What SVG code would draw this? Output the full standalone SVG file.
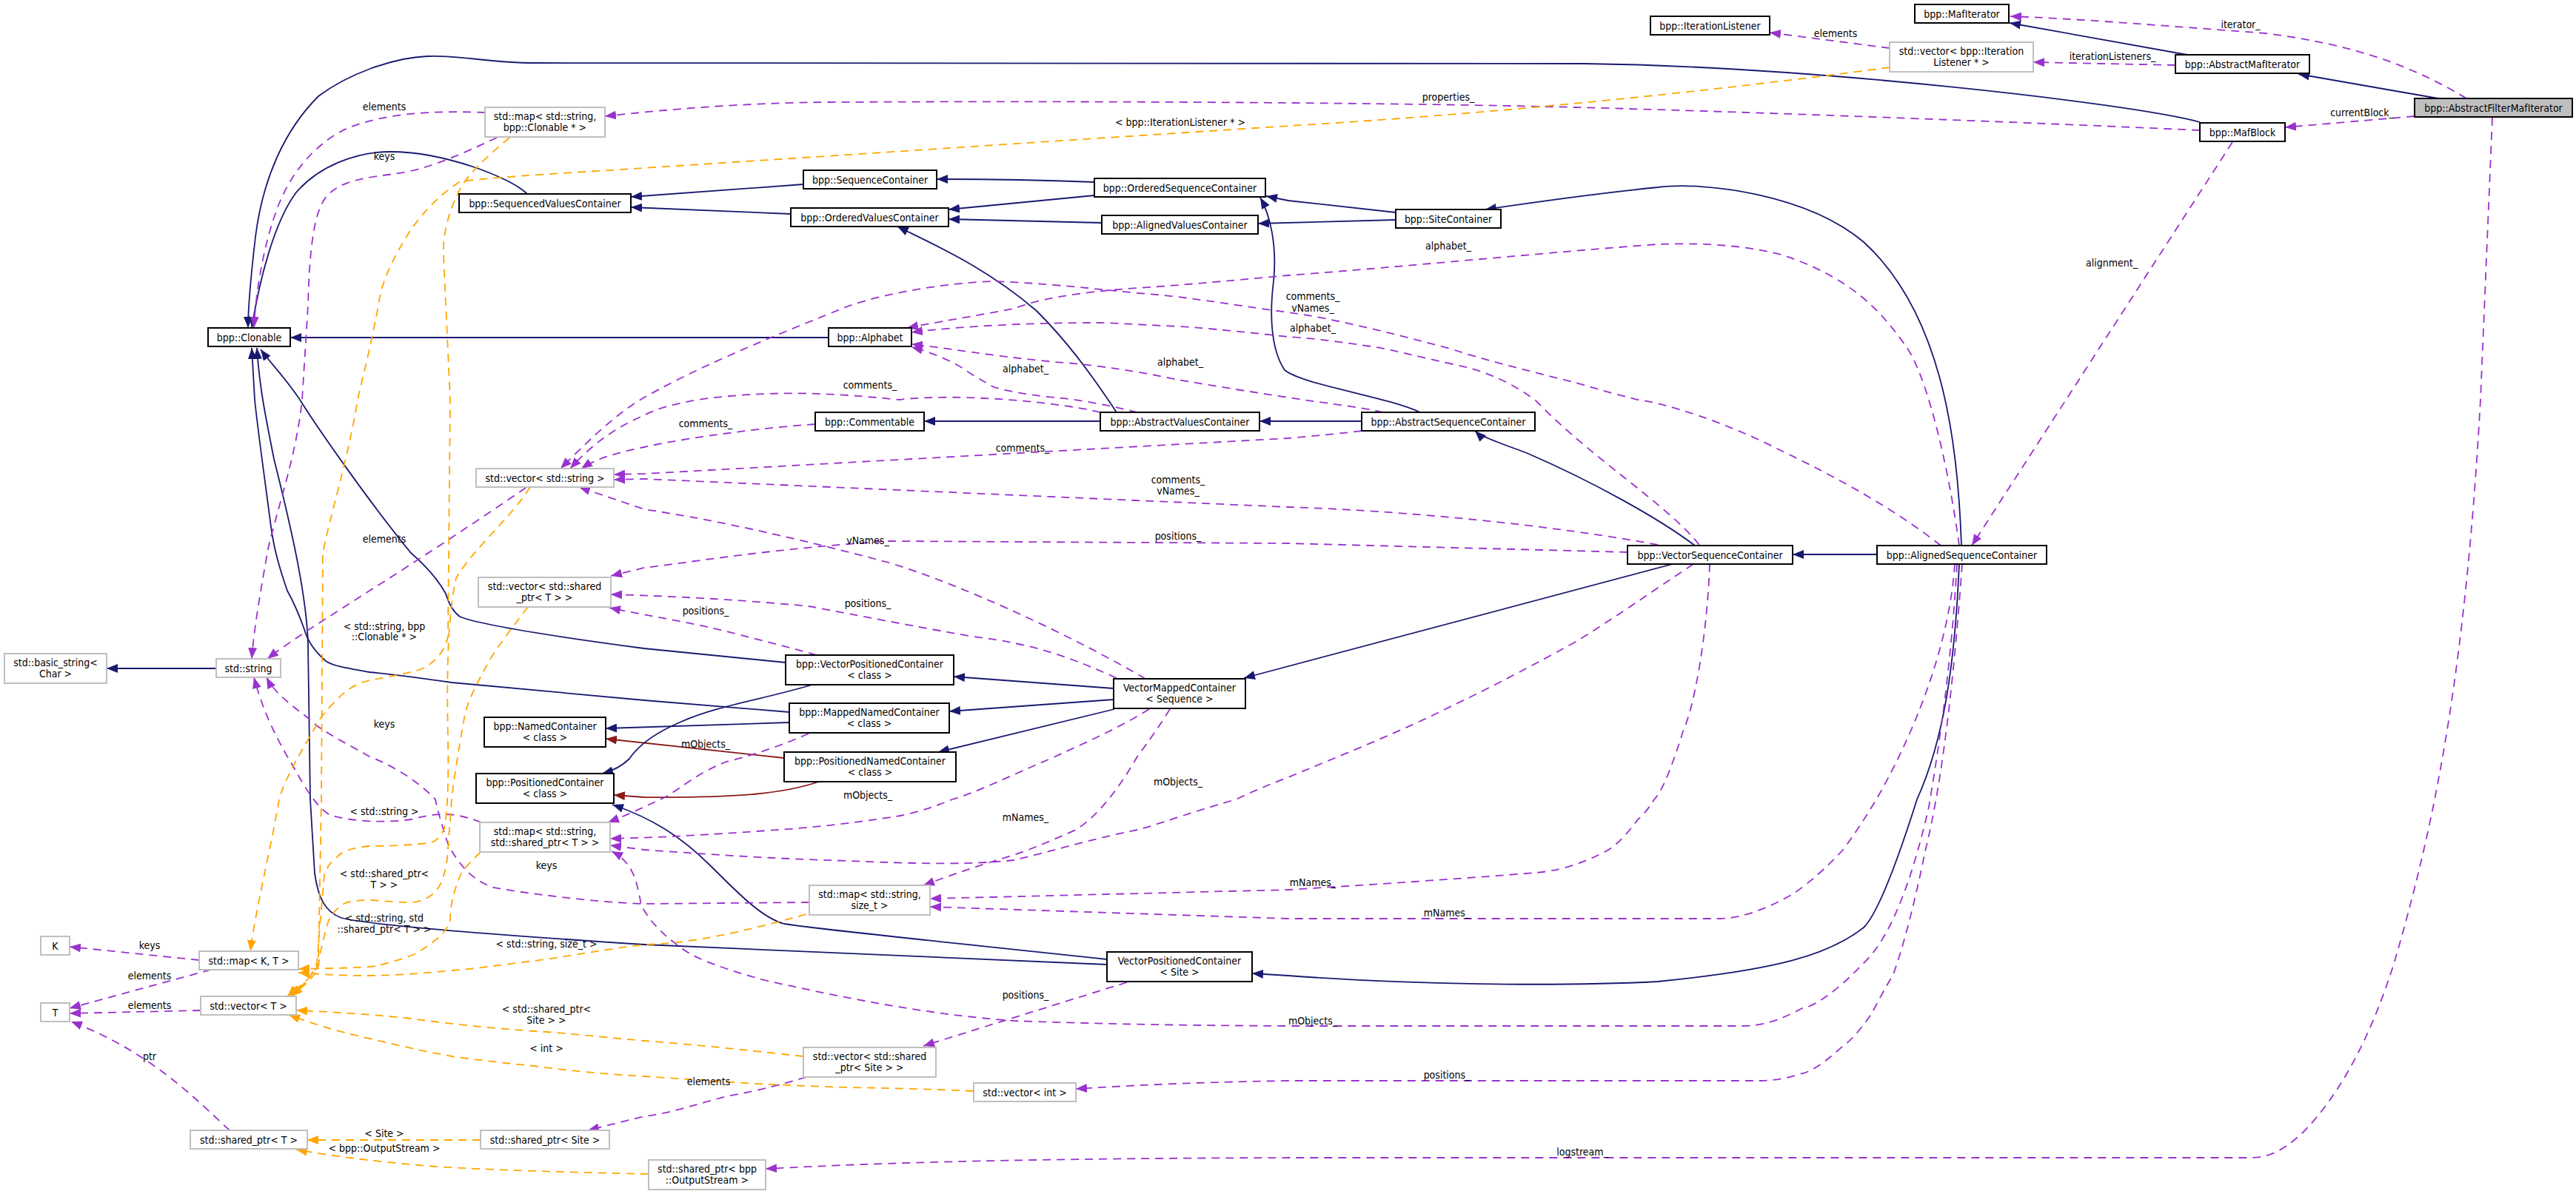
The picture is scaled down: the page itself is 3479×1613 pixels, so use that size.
<svg xmlns="http://www.w3.org/2000/svg" width="3479" height="1613" viewBox="0 0 3479 1613">
<defs>
<style>
.nd rect{fill:#ffffff;stroke:#000000;stroke-width:2}
.nd.u rect{stroke:#bfbfbf}
.nd.f rect{fill:#bfbfbf}
text{font-family:'DejaVu Sans Condensed','DejaVu Sans','Liberation Sans',sans-serif;font-stretch:condensed;font-size:14px;fill:#000000;text-anchor:middle}
.e path{fill:none;stroke-width:1.8}
.e .i{stroke:#191970;marker-end:url(#mb)}
.e .p{stroke:#8b1a1a;marker-end:url(#mr)}
.e .d{stroke:#9a32cd;stroke-dasharray:11,8;marker-end:url(#mp)}
.e .t{stroke:#ffa500;stroke-dasharray:11,8;marker-end:url(#mo)}
</style>
<marker id="mb" markerUnits="userSpaceOnUse" markerWidth="16" markerHeight="12" refX="15" refY="6" orient="auto"><path d="M0,0 L15,6 L0,12 z" fill="#191970"/></marker>
<marker id="mr" markerUnits="userSpaceOnUse" markerWidth="16" markerHeight="12" refX="15" refY="6" orient="auto"><path d="M0,0 L15,6 L0,12 z" fill="#8b1a1a"/></marker>
<marker id="mp" markerUnits="userSpaceOnUse" markerWidth="16" markerHeight="12" refX="15" refY="6" orient="auto"><path d="M0,0 L15,6 L0,12 z" fill="#9a32cd"/></marker>
<marker id="mo" markerUnits="userSpaceOnUse" markerWidth="16" markerHeight="12" refX="15" refY="6" orient="auto"><path d="M0,0 L15,6 L0,12 z" fill="#ffa500"/></marker>
</defs>
<rect x="0" y="0" width="3479" height="1613" fill="#ffffff"/>
<g id="edges" class="e">
<path class="d" d="M3331,133 C3260,90 3180,60 3060,45 C2900,33 2800,25 2715,22"/>
<path class="i" d="M3293,133 L3104,100"/>
<path class="i" d="M2954,74 L2714,31"/>
<path class="d" d="M2938,88 L2746,84"/>
<path class="d" d="M2552,65 L2390,44"/>
<path class="d" d="M3261,157 L3086,172"/>
<path class="i" d="M2971,165 C2880,140 2450,90 2140,86 L721,85 C660,85 620,74 577,76 C530,78 470,100 430,130 C385,175 355,240 345,320 C338,380 335,420 335,443"/>
<path class="d" d="M2971,176 C2800,168 2400,152 2128,145 C1900,139 1500,136 1120,138 C1000,139 900,148 817,157"/>
<path class="d" d="M3015,192 L2663,737"/>
<path class="d" d="M3366,159 L3350,540 C3330,900 3290,1100 3243,1267 C3210,1390 3160,1480 3110,1530 C3080,1558 3060,1564 3040,1564 L1740,1564 C1400,1565 1200,1570 1034,1579"/>
<path class="i" d="M712,262 C690,240 600,205 527,205 C480,205 430,225 400,260 C370,300 350,380 340,443"/>
<path class="i" d="M1085,249 L852,266"/>
<path class="i" d="M1068,289 L852,280"/>
<path class="i" d="M1478,246 C1400,243 1350,242 1265,242"/>
<path class="i" d="M1478,264 L1281,283"/>
<path class="i" d="M1488,301 L1281,296"/>
<path class="i" d="M1885,287 L1740,271 L1710,265"/>
<path class="i" d="M1885,297 L1699,302"/>
<path class="i" d="M1508,557 C1470,500 1440,460 1400,420 C1330,360 1260,330 1212,306"/>
<path class="i" d="M1918,557 C1870,535 1760,520 1735,500 C1715,470 1715,420 1720,380 C1725,330 1715,290 1702,267"/>
<path class="i" d="M1839,569 L1701,569"/>
<path class="i" d="M1486,569 L1248,569"/>
<path class="i" d="M1119,456 L392,456"/>
<path class="i" d="M2289,737 C2240,700 2150,650 2062,612 C2030,600 2000,590 1992,582"/>
<path class="i" d="M2535,749 L2421,749"/>
<path class="i" d="M2649,737 C2645,620 2630,430 2517,327 C2440,262 2300,245 2239,253 C2150,262 2060,275 2006,283"/>
<path class="i" d="M2259,762 L1680,916"/>
<path class="i" d="M1504,930 L1288,914"/>
<path class="i" d="M1504,945 L1282,961"/>
<path class="i" d="M1505,958 L1267,1016"/>
<path class="i" d="M1066,976 L818,984"/>
<path class="p" d="M1059,1024 L818,998"/>
<path class="p" d="M1109,1055 C1060,1072 1000,1078 870,1077 L829,1074"/>
<path class="i" d="M1097,925 C1030,945 970,953 920,975 C880,992 860,1010 850,1025 C840,1035 825,1042 813,1045"/>
<path class="i" d="M1495,1296 C1300,1275 1100,1255 1059,1248 C1030,1240 1000,1210 960,1170 C920,1130 880,1105 827,1087"/>
<path class="i" d="M1495,1303 L870,1276 C700,1265 500,1250 461,1240 C440,1232 430,1215 425,1180 L419,1080 L416,870 C414,800 390,700 370,620 C358,560 350,520 347,470"/>
<path class="i" d="M1066,962 L870,946 L610,922 C560,915 520,910 499,908 C470,903 450,900 440,893 C425,880 415,865 411,850 C400,820 392,805 388,798 C375,760 370,740 366,712 C358,650 348,580 344,540 L340,470"/>
<path class="i" d="M1061,895 L870,876 C750,860 650,845 621,833 C610,825 605,812 602,802 C590,780 570,760 555,747 C500,680 430,580 405,540 C385,510 365,490 352,472"/>
<path class="i" d="M2646,762 C2640,900 2625,1000 2589,1080 C2570,1140 2540,1230 2517,1253 C2470,1290 2400,1310 2239,1326 C2100,1333 1900,1330 1740,1318 L1691,1315"/>
<path class="i" d="M292,903 L144,903"/>
<path class="d" d="M655,152 C600,150 530,150 472,172 C430,190 395,230 377,275 C355,330 345,400 343,443"/>
<path class="d" d="M671,186 C640,200 600,220 555,231 C510,240 470,238 444,262 C425,280 418,330 416,413 L408,540 C400,620 370,700 361,747 C350,810 343,850 340,890"/>
<path class="d" d="M710,659 C650,700 560,760 499,798 C450,830 400,860 361,890"/>
<path class="d" d="M650,1111 C620,1100 600,1095 555,1107 C520,1112 470,1110 444,1100 C420,1085 400,1040 388,1022 C370,990 355,960 343,915"/>
<path class="d" d="M1093,1219 L870,1221 C800,1219 700,1205 666,1199 C640,1190 620,1170 605,1140 C595,1110 590,1090 588,1080 C560,1050 520,1030 499,1022 C460,1000 430,985 416,970 C390,950 370,935 360,915"/>
<path class="d" d="M269,1297 L94,1279"/>
<path class="d" d="M285,1310 L94,1362"/>
<path class="d" d="M271,1365 L94,1369"/>
<path class="d" d="M310,1527 C260,1480 200,1420 96,1380"/>
<path class="d" d="M1101,573 C1000,580 900,597 870,604 C830,612 805,620 785,633"/>
<path class="d" d="M1486,557 C1440,545 1300,530 1214,540 C1120,530 1036,527 942,540 C900,548 880,555 870,561 C830,578 800,600 770,633"/>
<path class="d" d="M1839,582 C1800,587 1760,590 1740,592 L870,640 L829,641"/>
<path class="d" d="M2239,736 C2100,710 1900,690 1740,685 L870,647 L829,648"/>
<path class="d" d="M2198,746 L1740,734 L1203,731 C1050,740 930,760 870,767 L825,778"/>
<path class="d" d="M1547,917 C1450,860 1300,790 1200,760 C1050,720 950,700 870,688 L782,658"/>
<path class="d" d="M1508,916 C1450,890 1400,870 1314,860 C1200,840 1100,820 1092,819 C1000,810 900,805 825,803"/>
<path class="d" d="M1103,885 C1050,870 1000,858 981,853 C930,840 880,833 823,821"/>
<path class="d" d="M1092,991 C1050,1010 1000,1025 981,1029 C940,1045 920,1065 898,1077 C870,1090 850,1100 821,1111"/>
<path class="d" d="M1552,958 C1500,990 1450,1010 1425,1022 C1360,1050 1320,1070 1286,1080 C1250,1095 1220,1102 1203,1104 C1150,1112 1100,1118 1036,1122 C950,1128 900,1131 824,1133"/>
<path class="d" d="M2287,762 C2230,800 2180,835 2128,867 C2050,910 2000,935 1962,953 C1900,985 1800,1025 1740,1050 C1700,1065 1680,1075 1669,1080 C1600,1100 1560,1115 1536,1121 C1480,1132 1420,1150 1369,1162 C1300,1170 1200,1165 1147,1163 C1050,1160 981,1156 870,1148 L824,1142"/>
<path class="d" d="M2643,762 C2635,900 2620,1000 2605,1090 C2580,1200 2550,1270 2517,1301 C2480,1340 2450,1360 2434,1362 C2400,1380 2380,1386 2350,1386 L1740,1386 C1550,1385 1450,1382 1369,1379 C1250,1370 1150,1350 1036,1325 C980,1310 940,1295 925,1284 C890,1260 875,1240 866,1223 C860,1190 855,1165 826,1150"/>
<path class="d" d="M1580,958 C1560,990 1545,1010 1536,1022 C1520,1050 1505,1070 1497,1080 C1480,1100 1470,1110 1453,1121 C1410,1140 1390,1148 1369,1155 C1320,1170 1290,1180 1247,1196"/>
<path class="d" d="M2309,762 C2306,850 2290,950 2273,988 C2260,1030 2245,1070 2234,1080 C2225,1095 2215,1105 2212,1107 C2195,1130 2180,1145 2167,1151 C2130,1170 2100,1177 2073,1179 C2000,1185 1900,1192 1740,1202 L1256,1214"/>
<path class="d" d="M2640,762 C2632,880 2580,1000 2534,1080 C2510,1120 2495,1140 2489,1148 C2450,1190 2420,1210 2406,1216 C2370,1235 2340,1241 2323,1241 L1740,1241 L1256,1225"/>
<path class="d" d="M1522,1327 L1247,1413"/>
<path class="d" d="M2650,762 C2640,900 2625,1050 2600,1150 C2580,1250 2560,1310 2556,1318 C2540,1345 2530,1365 2528,1369 C2510,1395 2495,1410 2489,1413 C2460,1440 2440,1450 2434,1450 C2410,1458 2390,1460 2378,1460 L1740,1460 C1600,1462 1500,1468 1453,1471"/>
<path class="d" d="M1089,1455 C1040,1470 1000,1478 981,1481 C930,1495 900,1505 870,1508 L794,1527"/>
<path class="d" d="M2646,737 C2630,620 2600,500 2572,465 C2540,420 2500,375 2406,344 C2350,330 2290,328 2239,330 C2100,340 1900,360 1740,372 C1650,380 1600,385 1536,389 C1450,395 1400,405 1369,417 C1310,428 1260,436 1225,443"/>
<path class="d" d="M2295,736 C2250,680 2150,620 2073,540 C2030,510 2000,500 1962,492 C1900,478 1870,470 1851,468 C1800,460 1760,456 1740,455 C1650,445 1600,441 1591,441 C1530,438 1500,436 1480,436 C1400,436 1300,440 1231,449"/>
<path class="d" d="M1868,557 C1840,550 1790,545 1740,537 C1680,528 1620,518 1591,513 C1530,500 1470,492 1425,489 C1330,480 1280,470 1231,465"/>
<path class="d" d="M1536,557 C1500,548 1460,540 1425,537 C1380,533 1350,525 1342,523 C1320,510 1310,505 1303,499 C1280,485 1255,475 1231,469"/>
<path class="d" d="M2621,737 C2550,680 2450,630 2406,609 C2330,570 2250,545 2212,540 C2170,530 2140,520 2128,517 C2060,500 2000,485 1962,472 C1880,450 1800,430 1740,422 C1650,410 1600,400 1536,396 C1460,388 1400,382 1342,380 C1280,382 1200,395 1147,413 C1080,440 1030,460 981,482 C940,500 900,520 870,537 C830,560 790,600 757,633"/>
<path class="t" d="M688,186 C660,210 630,235 618,262 C600,300 598,330 599,344 L608,540 L605,860 C600,885 580,900 566,905 C540,912 510,917 499,919 C480,924 465,930 433,970 C410,1010 385,1050 377,1080 C365,1150 345,1230 338,1285"/>
<path class="t" d="M2552,91 C2300,125 2000,155 1740,170 L870,227 C780,233 680,238 622,245 C590,265 570,290 555,310 C530,350 515,380 511,413 C500,470 490,510 483,540 C470,620 445,700 436,747 L434,1080 L430,1301 C425,1320 400,1335 388,1346"/>
<path class="t" d="M713,820 C690,850 675,870 666,884 C645,920 630,950 627,970 C618,1020 612,1060 610,1080 L604,1160 C600,1185 595,1200 583,1209 C575,1215 565,1219 555,1219 C530,1219 510,1216 499,1216 C480,1216 468,1218 461,1223 C452,1230 447,1237 444,1243 C438,1260 436,1275 433,1284 L430,1305 C425,1322 405,1335 394,1346"/>
<path class="t" d="M716,658 C690,700 640,740 616,781 C605,830 603,900 605,1000 C606,1050 605,1090 600,1120 C595,1130 590,1135 583,1138 C560,1142 520,1143 499,1143 C475,1145 462,1150 455,1158 C445,1165 440,1175 438,1182 L432,1250 L428,1301 C420,1322 405,1335 392,1346"/>
<path class="t" d="M649,1151 C635,1165 625,1175 622,1182 C612,1205 608,1225 608,1243 C605,1255 595,1265 588,1270 C575,1280 565,1287 555,1291 C530,1300 510,1305 499,1306 C470,1308 445,1308 403,1309"/>
<path class="t" d="M1089,1235 C1000,1260 930,1275 870,1276 C800,1285 750,1295 721,1298 C680,1303 640,1309 610,1311 C560,1316 520,1318 499,1318 C460,1318 430,1316 403,1314"/>
<path class="t" d="M1085,1427 C1000,1418 950,1412 870,1406 C800,1400 760,1395 721,1393 C650,1388 600,1382 555,1376 C500,1370 450,1367 400,1365"/>
<path class="t" d="M1315,1474 C1250,1471 1200,1470 1147,1469 C1050,1466 1000,1463 981,1461 C930,1458 900,1456 870,1454 C800,1450 750,1444 721,1440 C670,1435 640,1431 610,1427 C560,1418 530,1410 499,1403 C450,1392 420,1382 390,1371"/>
<path class="t" d="M649,1540 L415,1540"/>
<path class="t" d="M876,1586 C700,1582 600,1578 555,1573 C500,1568 450,1562 400,1553"/>
</g>
<g id="labels">
<text x="3026" y="38">iterator_</text>
<text x="2853" y="81">iterationListeners_</text>
<text x="2479" y="50">elements</text>
<text x="3190" y="157">currentBlock_</text>
<text x="1956" y="136">properties_</text>
<text x="2852" y="360">alignment_</text>
<text x="2137" y="1561">logstream_</text>
<text x="1594" y="170">&lt; bpp::IterationListener * &gt;</text>
<text x="519" y="149">elements</text>
<text x="519" y="216">keys</text>
<text x="1956" y="337">alphabet_</text>
<text x="1773" y="405">comments_</text>
<text x="1773" y="421">vNames_</text>
<text x="1773" y="448">alphabet_</text>
<text x="1594" y="494">alphabet_</text>
<text x="1385" y="503">alphabet_</text>
<text x="1175" y="525">comments_</text>
<text x="953" y="577">comments_</text>
<text x="1381" y="610">comments_</text>
<text x="1591" y="653">comments_</text>
<text x="1591" y="668">vNames_</text>
<text x="1591" y="729">positions_</text>
<text x="1172" y="735">vNames_</text>
<text x="519" y="733">elements</text>
<text x="1172" y="820">positions_</text>
<text x="953" y="830">positions_</text>
<text x="519" y="851">&lt; std::string, bpp</text>
<text x="519" y="865">::Clonable * &gt;</text>
<text x="519" y="983">keys</text>
<text x="953" y="1010">mObjects_</text>
<text x="1591" y="1061">mObjects_</text>
<text x="1172" y="1079">mObjects_</text>
<text x="519" y="1101">&lt; std::string &gt;</text>
<text x="1385" y="1109">mNames_</text>
<text x="738" y="1174">keys</text>
<text x="519" y="1185">&lt; std::shared_ptr&lt;</text>
<text x="519" y="1200">T &gt; &gt;</text>
<text x="1773" y="1197">mNames_</text>
<text x="1954" y="1238">mNames_</text>
<text x="519" y="1245">&lt; std::string, std</text>
<text x="519" y="1260">::shared_ptr&lt; T &gt; &gt;</text>
<text x="738" y="1280">&lt; std::string, size_t &gt;</text>
<text x="202" y="1282">keys</text>
<text x="202" y="1323">elements</text>
<text x="202" y="1363">elements</text>
<text x="1385" y="1349">positions_</text>
<text x="738" y="1368">&lt; std::shared_ptr&lt;</text>
<text x="738" y="1383">Site &gt; &gt;</text>
<text x="1773" y="1384">mObjects_</text>
<text x="738" y="1421">&lt; int &gt;</text>
<text x="202" y="1432">ptr</text>
<text x="1954" y="1457">positions_</text>
<text x="957" y="1466">elements</text>
<text x="519" y="1536">&lt; Site &gt;</text>
<text x="519" y="1556">&lt; bpp::OutputStream &gt;</text>
</g>
<g id="n_afmi" class="nd f"><rect x="3261" y="133" width="213" height="25"/><text x="3367.5" y="150.5">bpp::AbstractFilterMafIterator</text></g>
<g id="n_mafit" class="nd"><rect x="2586" y="6" width="127" height="25"/><text x="2649.5" y="23.5">bpp::MafIterator</text></g>
<g id="n_ami" class="nd"><rect x="2938" y="74" width="181" height="25"/><text x="3028.5" y="91.5">bpp::AbstractMafIterator</text></g>
<g id="n_il" class="nd"><rect x="2229" y="22" width="161" height="25"/><text x="2309.5" y="39.5">bpp::IterationListener</text></g>
<g id="n_vil" class="nd u"><rect x="2552" y="57" width="194" height="40"/><text x="2649" y="74">std::vector&lt; bpp::Iteration</text><text x="2649" y="89">Listener * &gt;</text></g>
<g id="n_mafblock" class="nd"><rect x="2971" y="166" width="115" height="25"/><text x="3028.5" y="183.5">bpp::MafBlock</text></g>
<g id="n_mapsc" class="nd u"><rect x="655" y="145" width="162" height="40"/><text x="736" y="162">std::map&lt; std::string,</text><text x="736" y="177">bpp::Clonable * &gt;</text></g>
<g id="n_svc" class="nd"><rect x="620" y="262" width="232" height="25"/><text x="736" y="279.5">bpp::SequencedValuesContainer</text></g>
<g id="n_sc" class="nd"><rect x="1085" y="230" width="180" height="25"/><text x="1175" y="247.5">bpp::SequenceContainer</text></g>
<g id="n_osc" class="nd"><rect x="1478" y="241" width="231" height="25"/><text x="1593.5" y="258.5">bpp::OrderedSequenceContainer</text></g>
<g id="n_ovc" class="nd"><rect x="1068" y="281" width="213" height="25"/><text x="1174.5" y="298.5">bpp::OrderedValuesContainer</text></g>
<g id="n_avc" class="nd"><rect x="1488" y="291" width="211" height="25"/><text x="1593.5" y="308.5">bpp::AlignedValuesContainer</text></g>
<g id="n_sitec" class="nd"><rect x="1885" y="283" width="142" height="25"/><text x="1956" y="300.5">bpp::SiteContainer</text></g>
<g id="n_clonable" class="nd"><rect x="281" y="443" width="111" height="25"/><text x="336.5" y="460.5">bpp::Clonable</text></g>
<g id="n_alphabet" class="nd"><rect x="1119" y="443" width="112" height="25"/><text x="1175" y="460.5">bpp::Alphabet</text></g>
<g id="n_comm" class="nd"><rect x="1101" y="557" width="147" height="25"/><text x="1174.5" y="574.5">bpp::Commentable</text></g>
<g id="n_absvc" class="nd"><rect x="1486" y="557" width="215" height="25"/><text x="1593.5" y="574.5">bpp::AbstractValuesContainer</text></g>
<g id="n_abssc" class="nd"><rect x="1839" y="557" width="234" height="25"/><text x="1956" y="574.5">bpp::AbstractSequenceContainer</text></g>
<g id="n_vstr" class="nd u"><rect x="643" y="633" width="186" height="25"/><text x="736" y="650.5">std::vector&lt; std::string &gt;</text></g>
<g id="n_vspt" class="nd u"><rect x="646" y="780" width="179" height="40"/><text x="735.5" y="797">std::vector&lt; std::shared</text><text x="735.5" y="812">_ptr&lt; T &gt; &gt;</text></g>
<g id="n_vsc" class="nd"><rect x="2198" y="737" width="223" height="25"/><text x="2309.5" y="754.5">bpp::VectorSequenceContainer</text></g>
<g id="n_asc" class="nd"><rect x="2535" y="737" width="229" height="25"/><text x="2649.5" y="754.5">bpp::AlignedSequenceContainer</text></g>
<g id="n_bstr" class="nd u"><rect x="6" y="883" width="138" height="40"/><text x="75" y="900">std::basic_string&lt;</text><text x="75" y="915">Char &gt;</text></g>
<g id="n_str" class="nd u"><rect x="292" y="890" width="87" height="25"/><text x="335.5" y="907.5">std::string</text></g>
<g id="n_vpcc" class="nd"><rect x="1061" y="885" width="227" height="40"/><text x="1174.5" y="902">bpp::VectorPositionedContainer</text><text x="1174.5" y="917">&lt; class &gt;</text></g>
<g id="n_vmc" class="nd"><rect x="1504" y="917" width="178" height="40"/><text x="1593" y="934">VectorMappedContainer</text><text x="1593" y="949">&lt; Sequence &gt;</text></g>
<g id="n_nc" class="nd"><rect x="654" y="969" width="164" height="40"/><text x="736" y="986">bpp::NamedContainer</text><text x="736" y="1001">&lt; class &gt;</text></g>
<g id="n_mnc" class="nd"><rect x="1066" y="950" width="216" height="40"/><text x="1174" y="967">bpp::MappedNamedContainer</text><text x="1174" y="982">&lt; class &gt;</text></g>
<g id="n_pc" class="nd"><rect x="643" y="1045" width="186" height="40"/><text x="736" y="1062">bpp::PositionedContainer</text><text x="736" y="1077">&lt; class &gt;</text></g>
<g id="n_pnc" class="nd"><rect x="1059" y="1016" width="232" height="40"/><text x="1175" y="1033">bpp::PositionedNamedContainer</text><text x="1175" y="1048">&lt; class &gt;</text></g>
<g id="n_mssp" class="nd u"><rect x="648" y="1111" width="176" height="40"/><text x="736" y="1128">std::map&lt; std::string,</text><text x="736" y="1143">std::shared_ptr&lt; T &gt; &gt;</text></g>
<g id="n_mssz" class="nd u"><rect x="1093" y="1196" width="163" height="40"/><text x="1174.5" y="1213">std::map&lt; std::string,</text><text x="1174.5" y="1228">size_t &gt;</text></g>
<g id="n_k" class="nd u"><rect x="55" y="1265" width="39" height="25"/><text x="74.5" y="1282.5">K</text></g>
<g id="n_mkt" class="nd u"><rect x="269" y="1285" width="134" height="25"/><text x="336" y="1302.5">std::map&lt; K, T &gt;</text></g>
<g id="n_t" class="nd u"><rect x="55" y="1355" width="39" height="25"/><text x="74.5" y="1372.5">T</text></g>
<g id="n_vt" class="nd u"><rect x="271" y="1346" width="129" height="25"/><text x="335.5" y="1363.5">std::vector&lt; T &gt;</text></g>
<g id="n_vpcs" class="nd"><rect x="1495" y="1286" width="196" height="40"/><text x="1593" y="1303">VectorPositionedContainer</text><text x="1593" y="1318">&lt; Site &gt;</text></g>
<g id="n_vsps" class="nd u"><rect x="1085" y="1415" width="179" height="40"/><text x="1174.5" y="1432">std::vector&lt; std::shared</text><text x="1174.5" y="1447">_ptr&lt; Site &gt; &gt;</text></g>
<g id="n_vint" class="nd u"><rect x="1315" y="1463" width="138" height="25"/><text x="1384" y="1480.5">std::vector&lt; int &gt;</text></g>
<g id="n_spt" class="nd u"><rect x="257" y="1527" width="158" height="25"/><text x="336" y="1544.5">std::shared_ptr&lt; T &gt;</text></g>
<g id="n_sps" class="nd u"><rect x="649" y="1527" width="174" height="25"/><text x="736" y="1544.5">std::shared_ptr&lt; Site &gt;</text></g>
<g id="n_spo" class="nd u"><rect x="876" y="1567" width="158" height="40"/><text x="955" y="1584">std::shared_ptr&lt; bpp</text><text x="955" y="1599">::OutputStream &gt;</text></g>
</svg>
